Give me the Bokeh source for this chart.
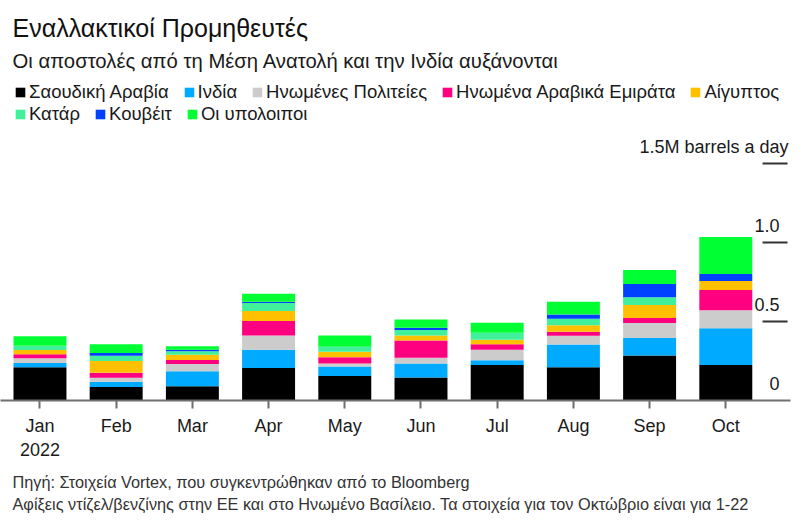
from bokeh.plotting import figure
from bokeh.models import (ColumnDataSource, Range1d, LinearAxis, FixedTicker,
                          Label, Legend, LegendItem, Title)
from bokeh.core.properties import value
from bokeh.embed import file_html
from bokeh.resources import INLINE

# ---------------- data ----------------
months = ["Jan", "Feb", "Mar", "Apr", "May", "Jun", "Jul", "Aug", "Sep", "Oct"]
year_label = "2022"
series_keys = ["saudi", "india", "us", "uae", "egypt", "qatar", "kuwait", "others"]
series_names = ["Σαουδική Αραβία", "Ινδία", "Ηνωμένες Πολιτείες",
                "Ηνωμένα Αραβικά Εμιράτα", "Αίγυπτος", "Κατάρ", "Κουβέιτ",
                "Οι υπολοιποι"]
series_colors = ["#000000", "#00aaff", "#cccccc", "#ff0080", "#ffc000",
                 "#40f09a", "#0040ff", "#00ff33"]

saudi = [0.210, 0.085, 0.090, 0.205, 0.155, 0.145, 0.225, 0.210, 0.285, 0.225]
india = [0.028, 0.034, 0.095, 0.116, 0.060, 0.090, 0.030, 0.145, 0.110, 0.232]
us = [0.029, 0.025, 0.046, 0.091, 0.019, 0.035, 0.067, 0.055, 0.095, 0.114]
uae = [0.025, 0.032, 0.025, 0.091, 0.040, 0.110, 0.034, 0.025, 0.032, 0.129]
egypt = [0.028, 0.074, 0.034, 0.063, 0.034, 0.032, 0.029, 0.042, 0.082, 0.057]
qatar = [0.027, 0.034, 0.021, 0.051, 0.032, 0.034, 0.044, 0.040, 0.049, 0.000]
kuwait = [0.000, 0.017, 0.011, 0.008, 0.000, 0.015, 0.000, 0.028, 0.084, 0.044]
others = [0.059, 0.055, 0.021, 0.051, 0.072, 0.051, 0.063, 0.080, 0.089, 0.234]

y_ticks = [0, 0.5, 1.0, 1.5]
y_tick_labels = ["0", "0.5", "1.0", "1.5M barrels a day"]

title_text = "Εναλλακτικοί Προμηθευτές"
subtitle_text = "Οι αποστολές από τη Μέση Ανατολή και την Ινδία αυξάνονται"
footer_lines = ["Πηγή: Στοιχεία Vortex, που συγκεντρώθηκαν από το Bloomberg",
                "Αφίξεις ντίζελ/βενζίνης στην ΕΕ και στο Ηνωμένο Βασίλειο. Τα στοιχεία για τον Οκτώβριο είναι για 1-22"]

FONT = "Liberation Sans"
TEXT = "#1a1a1a"

xs = list(range(len(months)))
src = ColumnDataSource(dict(x=xs, saudi=saudi, india=india, us=us, uae=uae,
                            egypt=egypt, qatar=qatar, kuwait=kuwait, others=others))

p = figure(width=792, height=523, output_backend="svg", toolbar_location=None,
           title=None,
           x_range=Range1d(-0.518, 9.849), y_range=Range1d(0, 2.532),
           x_axis_location=None, y_axis_location=None,
           min_border_left=0, min_border_right=2, min_border_top=0,
           min_border_bottom=123)
p.outline_line_color = None
p.background_fill_color = "white"
p.border_fill_color = "white"
p.xgrid.visible = False
p.ygrid.visible = False
p.grid.visible = False

renderers = p.vbar_stack(series_keys, x="x", width=0.695, fill_color=series_colors,
                         line_color=None, source=src)

# bottom axis
xaxis = LinearAxis(ticker=FixedTicker(ticks=xs))
overrides = {}
for i, m in enumerate(months):
    overrides[i] = m + ("\n" + year_label if i == 0 else "")
xaxis.major_label_overrides = overrides
xaxis.axis_line_color = "#6f6f6f"
xaxis.axis_line_width = 2
xaxis.major_tick_line_color = "#6f6f6f"
xaxis.major_tick_line_width = 2
xaxis.major_tick_in = 0
xaxis.major_tick_out = 8
xaxis.minor_tick_line_color = None
xaxis.major_label_standoff = 7
xaxis.major_label_text_font = FONT
xaxis.major_label_text_font_size = "18px"
xaxis.major_label_text_color = TEXT
xaxis.major_label_text_line_height = 1.22
p.add_layout(xaxis, "below")

# footer (below the axis)
footer = Title(text="\n".join(footer_lines), align="left", offset=12,
               vertical_align="bottom", standoff=15,
               text_font=FONT, text_font_size="16.3px", text_font_style="normal",
               text_color="#333333", text_line_height=1.25)
p.add_layout(footer, "below")

# right-hand value ticks (label sits above a short line)
tick_x0, tick_x1 = 9.482, 9.810
p.segment(x0=[tick_x0] * 3, x1=[tick_x1] * 3, y0=y_ticks[1:], y1=y_ticks[1:],
          line_color="#333333", line_width=2)
p.text(x=[9.705] * 3, y=y_ticks[:3], text=y_tick_labels[:3],
       text_align="right", text_baseline="middle", y_offset=-17,
       text_font=value(FONT), text_font_size="18px", text_color=TEXT)
p.text(x=[9.823], y=y_ticks[3:], text=y_tick_labels[3:],
       text_align="right", text_baseline="middle", y_offset=-17,
       text_font=value(FONT), text_font_size="18px", text_color=TEXT)

# titles
p.add_layout(Label(x=12, y=373, x_units="screen", y_units="screen", text=title_text,
                   text_font=FONT, text_font_size="25px", text_color="#111111",
                   text_baseline="middle"))
p.add_layout(Label(x=12, y=339.5, x_units="screen", y_units="screen", text=subtitle_text,
                   text_font=FONT, text_font_size="20.3px", text_color=TEXT,
                   text_baseline="middle"))

# legends
items = [LegendItem(label=n, renderers=[r]) for n, r in zip(series_names, renderers)]


def make_legend(its, loc):
    return Legend(items=its, orientation="horizontal", location=loc,
                  border_line_color=None, background_fill_alpha=0,
                  padding=0, margin=0, spacing=14, label_standoff=3,
                  glyph_width=12, glyph_height=12,
                  label_text_font=FONT, label_text_font_size="18.5px",
                  label_text_color=TEXT)


p.add_layout(make_legend(items[:5], (14, 297)))
p.add_layout(make_legend(items[5:], (14, 275)))

open("out.html", "w").write(file_html(p, INLINE))
